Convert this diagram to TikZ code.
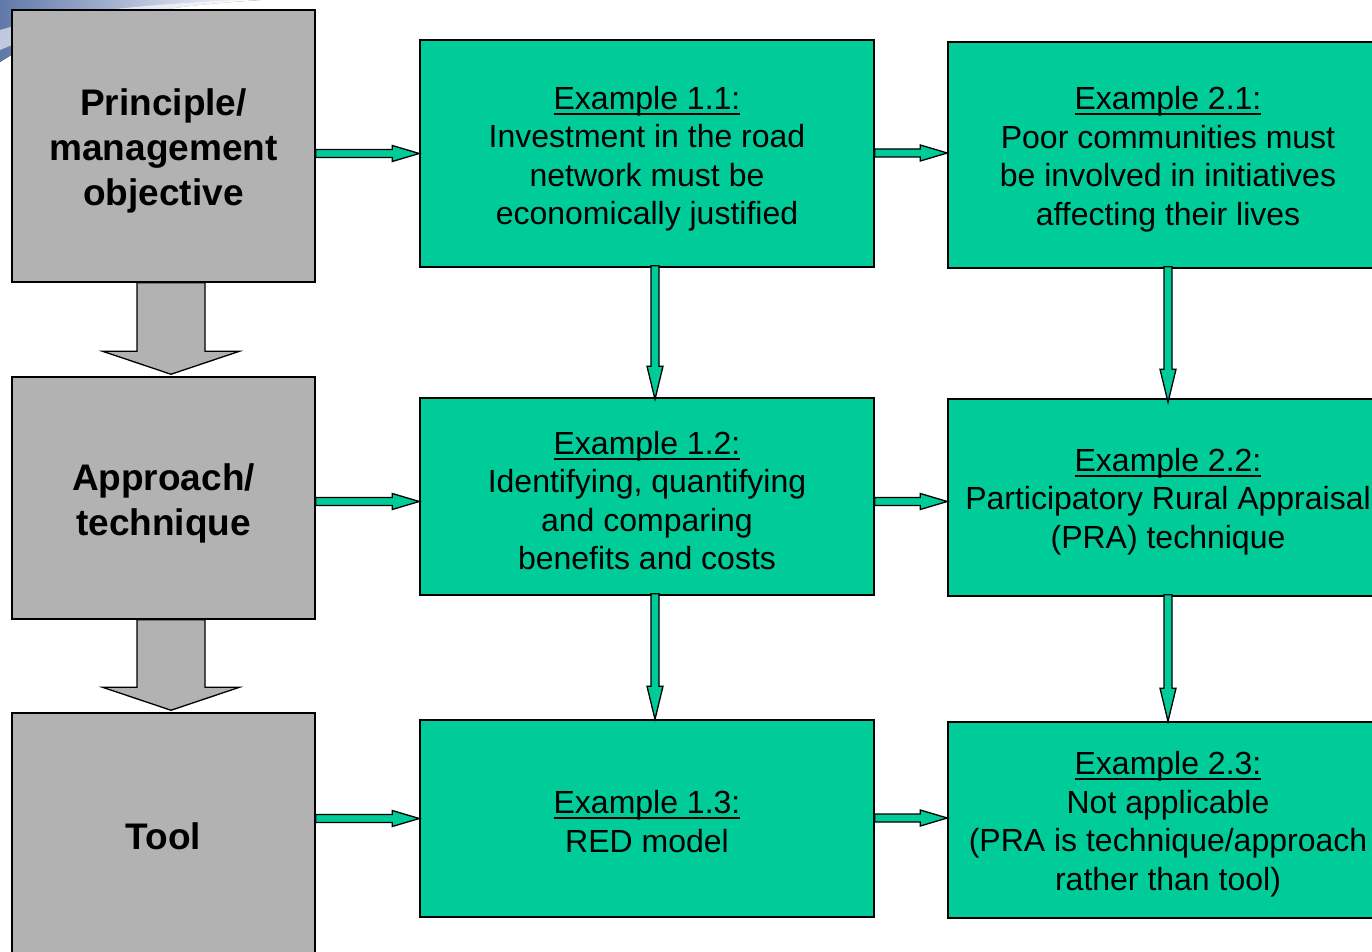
\documentclass[tikz,border=0pt]{standalone}
\usepackage{fontspec}
\setmainfont{Liberation Sans}
\usetikzlibrary{calc}
\newcommand{\myul}[1]{\setbox0=\hbox{#1}\rlap{\raisebox{-5.5pt}{\rule{\wd0}{2pt}}}\box0}
\definecolor{boxgreen}{RGB}{0,204,153}
\definecolor{boxgray}{RGB}{178,178,178}
\definecolor{swooshblue}{RGB}{96,120,170}
\tikzset{
  graybox/.style={draw=black, line width=1.5pt, fill=boxgray, inner sep=0pt},
  greenbox/.style={draw=black, line width=1.5pt, fill=boxgreen, inner sep=0pt},
  graytext/.style={inner sep=0pt, align=center, font=\bfseries\fontsize{37}{45}\selectfont},
  greentext/.style={inner sep=0pt, align=center, font=\fontsize{32}{38.5}\selectfont},
  garrow/.style={draw=black, line width=1.3pt, fill=boxgreen, line join=miter},
  grayarrow/.style={draw=black, line width=1.3pt, fill=boxgray, line join=miter}
}
\newcommand{\hblock}[2]{%
  \path let \p1=(#1), \p2=(#2) in [garrow]
    (\x1,\y2+4pt) -- (\x2-27pt,\y2+4pt) -- (\x2-27pt,\y2+8pt) -- (\x2,\y2)
    -- (\x2-27pt,\y2-8pt) -- (\x2-27pt,\y2-4pt) -- (\x1,\y2-4pt) -- cycle;}
\newcommand{\vblock}[2]{%
  \path let \p1=(#1), \p2=(#2) in [garrow]
    (\x1-4pt,\y1) -- (\x1-4pt,\y2+33pt) -- (\x1-8pt,\y2+33pt) -- (\x1,\y2)
    -- (\x1+8pt,\y2+33pt) -- (\x1+4pt,\y2+33pt) -- (\x1+4pt,\y1) -- cycle;}
\newcommand{\grayblock}[2]{%
  \path let \p1=(#1), \p2=(#2) in [grayarrow]
    (\x1-34pt,\y1) -- (\x1-34pt,\y2+23pt) -- (\x1-68.5pt,\y2+23pt) -- (\x1,\y2)
    -- (\x1+68.5pt,\y2+23pt) -- (\x1+34pt,\y2+23pt) -- (\x1+34pt,\y1) -- cycle;}
\begin{document}
\begin{tikzpicture}[x=1pt,y=-1pt]
\useasboundingbox (0,0) rectangle (1372,952);
\clip (0,0) rectangle (1372,952);
% background swoosh
\fill[left color=swooshblue, right color=white] (0,0) -- (260,0) .. controls (160,6) and (60,22) .. (0,62) -- cycle;
\fill[white, opacity=0.6] (0,30) .. controls (60,12) and (150,4) .. (240,0) -- (260,0) .. controls (150,8) and (50,28) .. (0,50) -- cycle;

% left column
\node[graybox, minimum width=303, minimum height=272] (p1) at (163.5,146) {};
\node[graybox, minimum width=303, minimum height=242] (p2) at (163.5,498) {};
\node[graybox, minimum width=303, minimum height=244] (p3) at (163.5,835) {};
\node[graytext] (tp1) at ($(p1.center)+(0,5)$) {Principle/\\management\\objective};
\node[graytext] (tp2) at ($(p2.center)+(0,5)$) {Approach/\\technique};
\node[graytext] (tp3) at ($(p3.center)+(0,1)$) {Tool};

% column 1
\node[greenbox, minimum width=454, minimum height=227] (g11) at (647,153.5) {};
\node[greenbox, minimum width=454, minimum height=197] (g12) at (647,496.5) {};
\node[greenbox, minimum width=454, minimum height=197] (g13) at (647,818.5) {};
\node[greentext] (t11) at ($(g11.center)+(0,5)$)
  {\myul{Example 1.1:}\\Investment in the road\\network must be\\economically justified};
\node[greentext] (t12) at ($(g12.center)+(0,4)$)
  {\myul{Example 1.2:}\\Identifying, quantifying\\and comparing\\benefits and costs};
\node[greentext] (t13) at ($(g13.center)+(0,3)$)
  {\myul{Example 1.3:}\\RED model};

% column 2
\node[greenbox, minimum width=440, minimum height=226] (g21) at (1168,155) {};
\node[greenbox, minimum width=440, minimum height=197] (g22) at (1168,497.5) {};
\node[greenbox, minimum width=440, minimum height=196] (g23) at (1168,820) {};
\node[greentext] (t21) at ($(g21.center)+(0,4)$)
  {\myul{Example 2.1:}\\Poor communities must\\be involved in initiatives\\affecting their lives};
\node[greentext] (t22) at ($(g22.center)+(0,4)$)
  {\myul{Example 2.2:}\\Participatory Rural Appraisal\\(PRA) technique};
\node[greentext] (t23) at ($(g23.center)+(0,4)$)
  {\myul{Example 2.3:}\\Not applicable\\(PRA is technique/approach\\rather than tool)};

% gray block arrows
\grayblock{$(p1.south)+(7.5,0)$}{$(p2.north)+(7.5,-2)$}
\grayblock{$(p2.south)+(7.5,0)$}{$(p3.north)+(7.5,-2)$}

% horizontal green arrows
\hblock{p1.east}{g11.west}
\hblock{p2.east}{$(g12.west)+(0,5)$}
\hblock{p3.east}{g13.west}
\hblock{g11.east}{$(g21.west)+(0,-2)$}
\hblock{g12.east}{$(g22.west)+(0,4)$}
\hblock{g13.east}{$(g23.west)+(0,-2)$}

% vertical green arrows
\vblock{$(g11.south)+(8,-2)$}{$(g12.north)+(8,2)$}
\vblock{$(g12.south)+(8,-2)$}{$(g13.north)+(8,0)$}
\vblock{$(g21.south)+(0,-2)$}{$(g22.north)+(0,4)$}
\vblock{$(g22.south)+(0,-2)$}{$(g23.north)+(0,0)$}
\end{tikzpicture}
\end{document}
